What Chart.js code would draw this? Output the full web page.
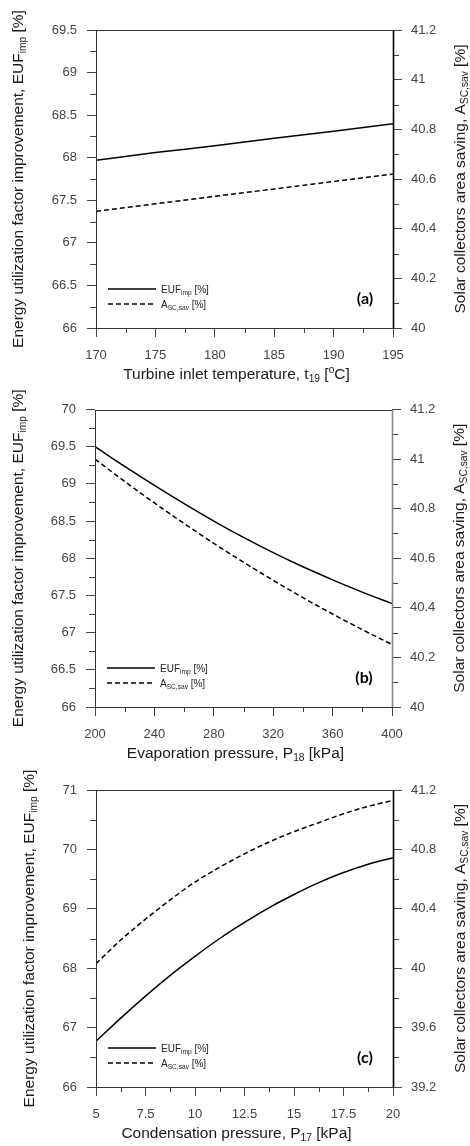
<!DOCTYPE html>
<html><head><meta charset="utf-8">
<script src="https://cdn.jsdelivr.net/npm/chart.js@4.4.1/dist/chart.umd.min.js"></script>
<style>
html,body{margin:0;padding:0;background:#fff;}
#wrap{position:relative;width:470px;height:1146px;overflow:hidden;}
canvas{position:absolute;left:0;}
</style></head><body>
<div id="wrap">
<canvas id="ca" width="470" height="385" style="top:0px"></canvas>
<canvas id="cb" width="470" height="380" style="top:385px"></canvas>
<canvas id="cc" width="470" height="381" style="top:765px"></canvas>
</div>
<script>
// ---------- DATA ----------
const tempA = [170, 175, 180, 185, 190, 195];
const eufA  = [67.97, 68.06, 68.14, 68.23, 68.31, 68.40];
const ascA  = [40.47, 40.50, 40.53, 40.56, 40.59, 40.62];

const pressB = [200, 220, 240, 260, 280, 300, 320, 340, 360, 380, 400];
const eufB   = [69.50, 69.235, 68.98, 68.735, 68.50, 68.28, 68.075, 67.885, 67.71, 67.545, 67.39];
const ascB   = [41.00, 40.910, 40.823, 40.740, 40.660, 40.584, 40.511, 40.441, 40.375, 40.312, 40.252];

const pressC = [5, 6.25, 7.5, 8.75, 10, 11.25, 12.5, 13.75, 15, 16.25, 17.5, 18.75, 20];
const eufC   = [66.77, 67.16, 67.53, 67.88, 68.20, 68.50, 68.77, 69.02, 69.24, 69.44, 69.61, 69.75, 69.86];
const ascC   = [40.03, 40.19, 40.33, 40.46, 40.58, 40.68, 40.77, 40.85, 40.92, 40.98, 41.04, 41.09, 41.13];

// tick labels (major) and minor tick positions
const xTicksA  = [170, 175, 180, 185, 190, 195];
const xMinorA  = [172.5, 177.5, 182.5, 187.5, 192.5];
const yLTicksA = [66, 66.5, 67, 67.5, 68, 68.5, 69, 69.5];
const yLMinorA = [66.25, 66.75, 67.25, 67.75, 68.25, 68.75, 69.25];
const yRTicksA = [40, 40.2, 40.4, 40.6, 40.8, 41, 41.2];
const yRMinorA = [40.1, 40.3, 40.5, 40.7, 40.9, 41.1];

const xTicksB  = [200, 240, 280, 320, 360, 400];
const xMinorB  = [220, 260, 300, 340, 380];
const yLTicksB = [66, 66.5, 67, 67.5, 68, 68.5, 69, 69.5, 70];
const yLMinorB = [66.25, 66.75, 67.25, 67.75, 68.25, 68.75, 69.25, 69.75];
const yRTicksB = [40, 40.2, 40.4, 40.6, 40.8, 41, 41.2];
const yRMinorB = [40.1, 40.3, 40.5, 40.7, 40.9, 41.1];

const xTicksC  = [5, 7.5, 10, 12.5, 15, 17.5, 20];
const xMinorC  = [6.25, 8.75, 11.25, 13.75, 16.25, 18.75];
const yLTicksC = [66, 67, 68, 69, 70, 71];
const yLMinorC = [66.5, 67.5, 68.5, 69.5, 70.5];
const yRTicksC = [39.2, 39.6, 40, 40.4, 40.8, 41.2];
const yRMinorC = [39.4, 39.8, 40.2, 40.6, 41.0];

// ---------- STYLE ----------
const FONT = "'Liberation Sans', Arial, Helvetica, sans-serif";
const TITLE_SIZE = 15.5;
const fmt = v => String(Math.round(v * 100) / 100);

function richWidth(ctx, parts, size) {
  let w = 0;
  parts.forEach(p => {
    const s = p.s ? size * 0.66 : size;
    ctx.font = s + 'px ' + FONT;
    w += ctx.measureText(p.t).width;
  });
  return w;
}
function drawRich(ctx, parts, size, x, y) {
  const w = richWidth(ctx, parts, size);
  let cx = x - w / 2;
  ctx.textBaseline = 'middle';
  ctx.textAlign = 'left';
  parts.forEach(p => {
    const s = p.s ? size * 0.66 : size;
    ctx.font = s + 'px ' + FONT;
    let dy = 0;
    if (p.s === 'sub') dy = size * 0.28;
    if (p.s === 'sup') dy = -size * 0.3;
    ctx.fillText(p.t, cx, y + dy);
    cx += ctx.measureText(p.t).width;
  });
}
function drawRichLeft(ctx, parts, size, x, y) {
  const w = richWidth(ctx, parts, size);
  drawRich(ctx, parts, size, x + w / 2, y);
}

function makePlugin(cfg) {
  return {
    id: 'deco',
    afterDraw(chart) {
      const ctx = chart.ctx;
      const a = chart.chartArea;
      const sx = chart.scales.x, sl = chart.scales.yL, sr = chart.scales.yR;
      ctx.save();
      // minor ticks
      ctx.strokeStyle = '#444';
      ctx.lineWidth = 1;
      ctx.beginPath();
      cfg.xMinor.forEach(v => { const p = Math.round(sx.getPixelForValue(v)) + 0.5; ctx.moveTo(p, a.bottom); ctx.lineTo(p, a.bottom + 5); });
      cfg.yLMinor.forEach(v => { const p = Math.round(sl.getPixelForValue(v)) + 0.5; ctx.moveTo(a.left, p); ctx.lineTo(a.left - 6, p); });
      cfg.yRMinor.forEach(v => { const p = Math.round(sr.getPixelForValue(v)) + 0.5; ctx.moveTo(a.right, p); ctx.lineTo(a.right + 6, p); });
      ctx.stroke();
      // frame
      ctx.strokeStyle = '#333';
      ctx.lineWidth = 1;
      ctx.strokeRect(Math.round(a.left) + 0.5, Math.round(a.top) + 0.5, Math.round(a.right) - Math.round(a.left), Math.round(a.bottom) - Math.round(a.top));
      ctx.strokeStyle = cfg.rightColor;
      ctx.lineWidth = 1.6;
      ctx.beginPath();
      ctx.moveTo(Math.round(a.right) + 0.5, a.top); ctx.lineTo(Math.round(a.right) + 0.5, a.bottom);
      ctx.stroke();

      // axis titles
      ctx.fillStyle = '#1a1a1a';
      const cy = (a.top + a.bottom) / 2;
      ctx.save();
      ctx.translate(cfg.leftTitleX, cy);
      ctx.rotate(-Math.PI / 2);
      drawRich(ctx, [{t: 'Energy utilization factor improvement, EUF'}, {t: 'imp', s: 'sub'}, {t: ' [%]'}], TITLE_SIZE, 0, 0);
      ctx.restore();
      ctx.save();
      ctx.translate(cfg.rightTitleX, cy);
      ctx.rotate(-Math.PI / 2);
      drawRich(ctx, [{t: 'Solar collectors area saving, A'}, {t: 'SC,sav', s: 'sub'}, {t: ' [%]'}], TITLE_SIZE, 0, 0);
      ctx.restore();
      drawRich(ctx, cfg.xTitle, TITLE_SIZE, (a.left + a.right) / 2 - 8, a.bottom + 47);

      // legend
      ctx.strokeStyle = '#000';
      ctx.lineWidth = 1.5;
      const lx0 = a.left + 12, lx1 = a.left + 60;
      const ly1 = a.bottom - 39, ly2 = a.bottom - 24;
      ctx.beginPath(); ctx.moveTo(lx0, ly1); ctx.lineTo(lx1, ly1); ctx.stroke();
      ctx.setLineDash([5, 3]);
      ctx.beginPath(); ctx.moveTo(lx0, ly2); ctx.lineTo(lx1, ly2); ctx.stroke();
      ctx.setLineDash([]);
      ctx.fillStyle = '#222';
      drawRichLeft(ctx, [{t: 'EUF'}, {t: 'imp', s: 'sub'}, {t: ' [%]'}], 10, a.left + 65, ly1 + 1);
      drawRichLeft(ctx, [{t: 'A'}, {t: 'SC,sav', s: 'sub'}, {t: ' [%]'}], 10, a.left + 65, ly2 + 1);

      // panel label
      ctx.fillStyle = '#000';
      ctx.font = "bold 16px Lato, 'Open Sans', sans-serif";
      ctx.textAlign = 'center';
      ctx.textBaseline = 'middle';
      ctx.fillText(cfg.label, a.right - 28, a.bottom - 29);
      ctx.restore();
    }
  };
}

function makeChart(id, cfg) {
  const tickFont = {family: FONT, size: 13};
  const grid = {display: true, drawOnChartArea: false, drawTicks: true, tickLength: 9, color: '#444', tickColor: '#444', lineWidth: 1};
  return new Chart(document.getElementById(id), {
    type: 'line',
    data: {
      datasets: [
        {label: 'EUF', data: cfg.xs.map((x, i) => ({x: x, y: cfg.euf[i]})), yAxisID: 'yL',
         borderColor: '#000', borderWidth: 1.5, pointRadius: 0, fill: false, cubicInterpolationMode: 'monotone'},
        {label: 'Asc', data: cfg.xs.map((x, i) => ({x: x, y: cfg.asc[i]})), yAxisID: 'yR',
         borderColor: '#000', borderWidth: 1.5, borderDash: [5, 3], pointRadius: 0, fill: false, cubicInterpolationMode: 'monotone'}
      ]
    },
    options: {
      responsive: false,
      animation: false,
      layout: {padding: {top: cfg.top, left: 0, right: 0, bottom: 0}},
      plugins: {legend: {display: false}, tooltip: {enabled: false}},
      scales: {
        x: {
          type: 'linear', position: 'bottom', min: cfg.xTicks[0], max: cfg.xTicks[cfg.xTicks.length - 1],
          afterBuildTicks: s => { s.ticks = cfg.xTicks.map(v => ({value: v})); },
          afterFit: s => { s.height = cfg.xH; },
          grid: grid, border: {display: false},
          ticks: {font: tickFont, color: '#444', padding: 11, autoSkip: false, maxRotation: 0, callback: v => fmt(v)}
        },
        yL: {
          type: 'linear', position: 'left', min: cfg.yLTicks[0], max: cfg.yLTicks[cfg.yLTicks.length - 1],
          afterBuildTicks: s => { s.ticks = cfg.yLTicks.map(v => ({value: v})); },
          afterFit: s => { s.width = cfg.leftW; },
          grid: grid, border: {display: false},
          ticks: {font: tickFont, color: '#444', padding: 10, autoSkip: false, callback: v => fmt(v)}
        },
        yR: {
          type: 'linear', position: 'right', min: cfg.yRTicks[0], max: cfg.yRTicks[cfg.yRTicks.length - 1],
          afterBuildTicks: s => { s.ticks = cfg.yRTicks.map(v => ({value: v})); },
          afterFit: s => { s.width = cfg.rightW; },
          grid: grid, border: {display: false},
          ticks: {font: tickFont, color: '#444', padding: 9, autoSkip: false, callback: v => fmt(v)}
        }
      }
    },
    plugins: [makePlugin(cfg)]
  });
}

makeChart('ca', {
  xs: tempA, euf: eufA, asc: ascA,
  xTicks: xTicksA, xMinor: xMinorA, yLTicks: yLTicksA, yLMinor: yLMinorA, yRTicks: yRTicksA, yRMinor: yRMinorA,
  top: 30, xH: 57, leftW: 96, rightW: 77, leftTitleX: 18.5, rightTitleX: 460.5, rightColor: '#000', label: '(a)',
  xTitle: [{t: 'Turbine inlet temperature, t'}, {t: '19', s: 'sub'}, {t: ' ['}, {t: 'o', s: 'sup'}, {t: 'C]'}]
});
makeChart('cb', {
  xs: pressB, euf: eufB, asc: ascB,
  xTicks: xTicksB, xMinor: xMinorB, yLTicks: yLTicksB, yLMinor: yLMinorB, yRTicks: yRTicksB, yRMinor: yRMinorB,
  top: 24.5, xH: 58, leftW: 95, rightW: 78, leftTitleX: 18.5, rightTitleX: 460, rightColor: '#888', label: '(b)',
  xTitle: [{t: 'Evaporation pressure, P'}, {t: '18', s: 'sub'}, {t: ' [kPa]'}]
});
makeChart('cc', {
  xs: pressC, euf: eufC, asc: ascC,
  xTicks: xTicksC, xMinor: xMinorC, yLTicks: yLTicksC, yLMinor: yLMinorC, yRTicks: yRTicksC, yRMinor: yRMinorC,
  top: 25, xH: 59, leftW: 96, rightW: 77, leftTitleX: 30, rightTitleX: 461, rightColor: '#000', label: '(c)',
  xTitle: [{t: 'Condensation pressure, P'}, {t: '17', s: 'sub'}, {t: ' [kPa]'}]
});
</script>
</body></html>
